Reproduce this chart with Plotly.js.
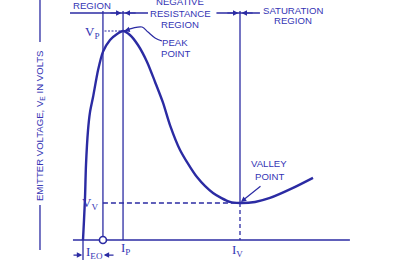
<!DOCTYPE html>
<html><head><meta charset="utf-8">
<script src="https://cdn.plot.ly/plotly-3.0.1.min.js"></script>
<style>html,body{margin:0;padding:0;background:#fff}#c{width:395px;height:260px}</style>
</head><body><div id="c"></div>
<script>
// UJT emitter characteristic (emitter current, arbitrary units; emitter voltage, V_P = 10)
const curveI = [0, 0.064, 0.13, 0.19, 0.32, 0.446, 0.64, 0.96, 1.27, 1.72, 2.17, 2.55, 2.99, 3.50, 4.08, 4.59, 5.10, 5.54, 6.18, 7.26, 8.28, 9.36, 10.0, 10.96, 11.91, 13.38, 14.65];
const curveV = [0, 0.957, 2.06, 3.59, 5.26, 6.12, 6.84, 8.13, 9.00, 9.57, 9.86, 10.0, 9.81, 9.33, 8.52, 7.56, 6.56, 5.50, 4.31, 3.01, 2.25, 1.82, 1.77, 1.82, 2.01, 2.49, 2.97];
const I_EO = 1.27, I_P = 2.55, I_V = 10.0;
const V_P = 10.0, V_V = 1.77;
const regionLevel = 10.86;
const tickLabels = ['I<sub>EO</sub>', 'I<sub>P</sub>', 'I<sub>V</sub>'];
const vLabels = ['V<sub>P</sub>', 'V<sub>V</sub>'];
const peakLeaderI = [2.61, 3.18, 3.76, 4.14, 4.59, 5.03];
const peakLeaderV = [10.0, 10.14, 10.19, 9.95, 9.67, 9.52];

const BLUE = '#2b2ba3', TXT = '#3434b4';
const lineTop = 10.96;
function seg(x, y, w, dash) {
  return {x: x, y: y, mode: 'lines', type: 'scatter', hoverinfo: 'skip',
          line: {color: BLUE, width: w, dash: dash || 'solid'}};
}
const traces = [
  seg([-0.64, 17.0], [0, 0], 1.6),
  seg([I_EO, I_EO], [lineTop, 0], 1.3),
  seg([I_P, I_P], [lineTop, 0], 1.3),
  seg([I_V, I_V], [lineTop, V_V], 1.3),
  seg([I_V, I_V], [V_V, 0], 1.3, '4px,3px'),
  seg([I_EO, I_V], [V_V, V_V], 1.3, '5px,3px'),
  seg([I_EO + 0.1, I_P], [V_P, V_P], 1.1, '2px,1.5px'),
  seg([-0.83, 4.14], [regionLevel, regionLevel], 1.3),
  seg([8.50, 11.27], [regionLevel, regionLevel], 1.3),
  seg([0, 0], [0, -0.96], 1.3),
  seg([-2.74, -2.74], [11.6, 9.47], 1.3),
  seg([-2.74, -2.74], [1.67, -0.48], 1.3),
  {x: peakLeaderI, y: peakLeaderV, mode: 'lines', type: 'scatter', hoverinfo: 'skip',
   line: {color: BLUE, width: 1.2, shape: 'spline'}},
  {x: curveI, y: curveV, mode: 'lines', type: 'scatter', hoverinfo: 'skip',
   line: {color: BLUE, width: 2.4, shape: 'spline', smoothing: 0.7}},
  {x: [I_EO], y: [0], mode: 'markers', type: 'scatter', hoverinfo: 'skip',
   marker: {size: 7, color: '#fff', line: {color: BLUE, width: 1.6}}}
];

const sans = {family: 'Liberation Sans, Arial, sans-serif', size: 9.6, color: TXT};
const serif = {family: 'Liberation Serif, Times New Roman, serif', size: 13, color: TXT};
function txt(x, y, t, f, extra) {
  return Object.assign({x: x, y: y, xref: 'x', yref: 'y', text: t, showarrow: false, font: f,
    xanchor: 'center', yanchor: 'middle'}, extra || {});
}
function arr(x, y, ax, ay) {
  return {x: x, y: y, ax: ax, ay: ay, xref: 'x', yref: 'y', axref: 'x', ayref: 'y', text: '',
    showarrow: true, arrowhead: 2, arrowsize: 0.9, arrowwidth: 1.2, arrowcolor: BLUE};
}
const annotations = [
  txt(0.57, 11.24, 'REGION', sans),
  txt(6.18, 11.39, 'NEGATIVE', sans),
  txt(6.18, 10.86, 'RESISTANCE', sans),
  txt(6.18, 10.33, 'REGION', sans),
  txt(13.38, 11.0, 'SATURATION', sans),
  txt(13.38, 10.52, 'REGION', sans),
  txt(5.86, 9.47, 'PEAK', sans),
  txt(5.86, 8.94, 'POINT', sans),
  txt(11.85, 3.68, 'VALLEY', sans),
  txt(11.85, 3.06, 'POINT', sans),
  txt(0.57, 9.92, vLabels[0], serif),
  txt(0.45, 1.77, vLabels[1], serif),
  txt(0.76, -0.6, tickLabels[0], serif),
  txt(2.70, -0.4, tickLabels[1], serif),
  txt(9.87, -0.5, tickLabels[2], serif),
  txt(-2.74, 5.5, 'EMITTER VOLTAGE, V<sub>E</sub> IN VOLTS', sans, {textangle: -90}),
  arr(I_P - 0.1, regionLevel, I_P - 0.9, regionLevel),
  arr(I_P + 0.1, regionLevel, I_P + 0.9, regionLevel),
  arr(I_V - 0.1, regionLevel, I_V - 0.9, regionLevel),
  arr(I_V + 0.1, regionLevel, I_V + 0.9, regionLevel),
  arr(-0.05, -0.72, -0.70, -0.72),
  arr(I_EO + 0.05, -0.72, 2.04, -0.72),
  arr(2.64, 10.0, 3.05, 10.1),
  arr(I_V + 0.06, V_V + 0.05, 11.40, 2.63)
];

const ax = {visible: false, showgrid: false, zeroline: false, fixedrange: true};
const layout = {
  width: 395, height: 260, margin: {l: 0, r: 0, t: 0, b: 0},
  paper_bgcolor: '#fff', plot_bgcolor: '#fff', showlegend: false,
  xaxis: Object.assign({range: [-5.287, 19.873]}, ax),
  yaxis: Object.assign({range: [-0.957, 11.483]}, ax),
  annotations: annotations
};
Plotly.newPlot('c', traces, layout, {staticPlot: true, displayModeBar: false});
</script></body></html>
